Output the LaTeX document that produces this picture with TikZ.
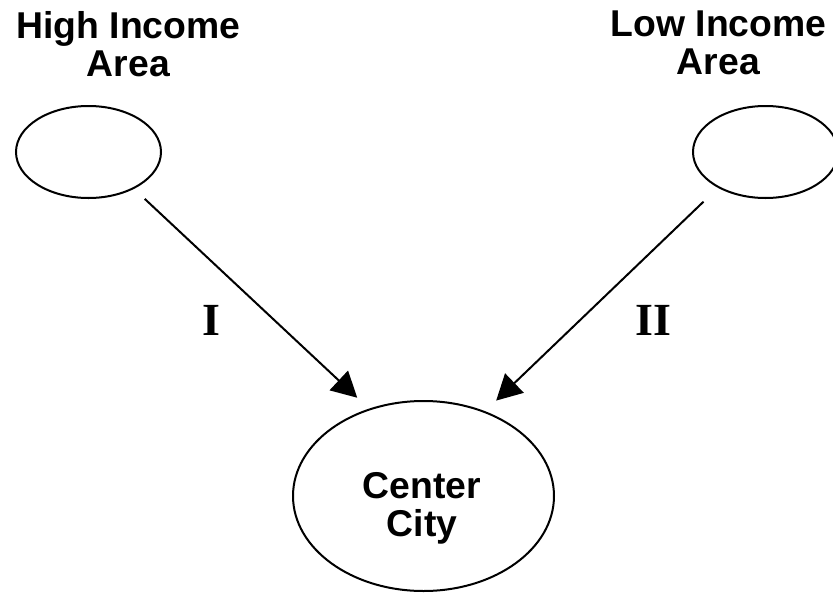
\documentclass[tikz,border=0pt]{standalone}
\usepackage{fontspec}
\setmainfont{Liberation Serif}
\setsansfont{Liberation Sans}
\usetikzlibrary{arrows.meta,shapes.geometric,positioning}

\begin{document}
\begin{tikzpicture}[x=0.75pt,y=-0.75pt,
    area/.style={ellipse,draw,line width=1.5pt,minimum width=108.75pt,minimum height=69pt,inner sep=0pt},
    city/.style={ellipse,draw,line width=1.5pt,minimum width=195.75pt,minimum height=142.5pt,inner sep=0pt},
    areaname/.style={font=\sffamily\bfseries\fontsize{28}{28.5}\selectfont,align=center,inner sep=0pt,anchor=north},
    route/.style={font=\rmfamily\bfseries\fontsize{34.5}{36}\selectfont,inner sep=0pt},
    flow/.style={-{Triangle[length=19pt,width=20pt]},line width=1.5pt}]
  \useasboundingbox (0,0) rectangle (833,593);
  \node[area] (hi) at (88.5,152) {};
  \node[area] (lo) at (765.5,152) {};
  \node[city] (cc) at (423.5,496) {};
  \node[areaname] (hitext) at (128.5,11) {High Income\\Area};
  \node[areaname] (lotext) at (718.5,11) {Low Income\\Area};
  \node[areaname] (cctext) at (422,472) {Center\\City};
  \node[route] (one) at (211,320) {I};
  \node[route] (two) at (653.5,320) {II};
  \path[flow] (hi.-39) edge[shorten <=11pt,shorten >=12pt] (cc.122)
              (lo.-143) edge[shorten <=15pt,shorten >=11.5pt] (cc.54);
\end{tikzpicture}
\end{document}
